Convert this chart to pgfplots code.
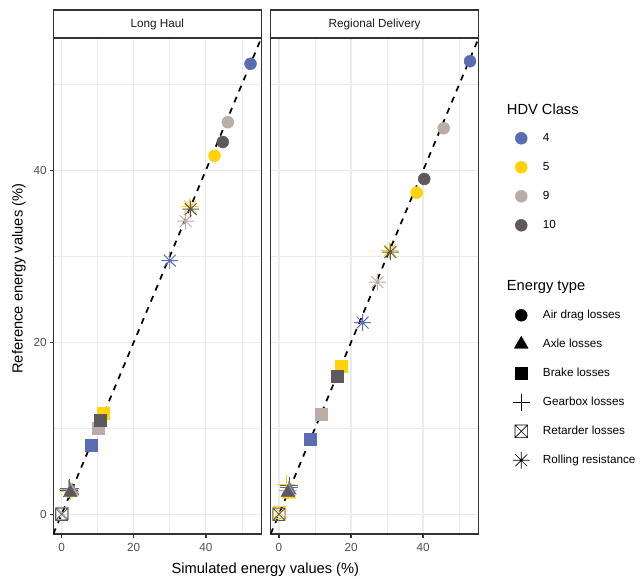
\documentclass[border=0pt]{standalone}
\usepackage{fontspec}
\setmainfont{Liberation Sans}
\usepackage{pgfplots}
\pgfplotsset{compat=1.18}
\usepackage{pgfplotstable}

% HDV class colours and theme colours
\definecolor{c4}{HTML}{5B6DB2}
\definecolor{c5}{HTML}{FFD308}
\definecolor{c9}{HTML}{B9ADA5}
\definecolor{c10}{HTML}{5F585E}
\definecolor{frame}{HTML}{333333}
\definecolor{gridc}{HTML}{EBEBEB}
\definecolor{ticktext}{HTML}{4D4D4D}

% boxed cross (retarder losses)
\pgfdeclareplotmark{boxx}{%
  \pgfpathrectangle{\pgfpoint{-\pgfplotmarksize}{-\pgfplotmarksize}}{\pgfpoint{2\pgfplotmarksize}{2\pgfplotmarksize}}%
  \pgfpathmoveto{\pgfpoint{-\pgfplotmarksize}{-\pgfplotmarksize}}%
  \pgfpathlineto{\pgfpoint{\pgfplotmarksize}{\pgfplotmarksize}}%
  \pgfpathmoveto{\pgfpoint{-\pgfplotmarksize}{\pgfplotmarksize}}%
  \pgfpathlineto{\pgfpoint{\pgfplotmarksize}{-\pgfplotmarksize}}%
  \pgfusepathqstroke}
% eight-armed asterisk (rolling resistance)
\pgfdeclareplotmark{star8}{%
  \pgfpathmoveto{\pgfpoint{-\pgfplotmarksize}{0pt}}%
  \pgfpathlineto{\pgfpoint{\pgfplotmarksize}{0pt}}%
  \pgfpathmoveto{\pgfpoint{0pt}{-\pgfplotmarksize}}%
  \pgfpathlineto{\pgfpoint{0pt}{\pgfplotmarksize}}%
  \pgfpathmoveto{\pgfpoint{-0.7071\pgfplotmarksize}{-0.7071\pgfplotmarksize}}%
  \pgfpathlineto{\pgfpoint{0.7071\pgfplotmarksize}{0.7071\pgfplotmarksize}}%
  \pgfpathmoveto{\pgfpoint{-0.7071\pgfplotmarksize}{0.7071\pgfplotmarksize}}%
  \pgfpathlineto{\pgfpoint{0.7071\pgfplotmarksize}{-0.7071\pgfplotmarksize}}%
  \pgfusepathqstroke}

% marker shape per energy type
\tikzset{
  mD/.style={mark=*, mark size=4.5pt, line width=0.3pt},
  mA/.style={mark=triangle*, mark size=6pt, line width=0.3pt},
  mB/.style={mark=square*, mark size=4.5pt, line width=0.3pt},
  mG/.style={mark=+, mark size=6.8pt, line width=0.6pt},
  mR/.style={mark=boxx, mark size=4.6pt, line width=0.6pt},
  mS/.style={mark=star8, mark size=6.3pt, line width=0.7pt},
}

\pgfplotsset{
  energyclasses/.style={scatter/classes={
    D4={mD,c4}, D5={mD,c5}, D9={mD,c9}, D10={mD,c10},
    A4={mA,c4}, A5={mA,c5}, A9={mA,c9}, A10={mA,c10},
    B4={mB,c4}, B5={mB,c5}, B9={mB,c9}, B10={mB,c10},
    G4={mG,c4}, G5={mG,c5}, G9={mG,c9}, G10={mG,c10},
    R4={mR,c4}, R5={mR,c5}, R9={mR,c9}, R10={mR,c10},
    S4={mS,c4}, S5={mS,c5}, S9={mS,c9}, S10={mS,c10}}},
  panel/.style={
    scale only axis, width=156pt, height=372pt,
    xmin=-2.3, xmax=55.4, ymin=-2.3, ymax=55.4,
    xtick={0,20,40}, ytick={0,20,40},
    minor xtick={10,30,50}, minor ytick={10,30,50},
    grid=both,
    major grid style={gridc, line width=1pt},
    minor grid style={gridc, line width=0.55pt},
    axis line style={frame, line width=1.07pt},
    tick align=outside, major tick length=2.75pt, minor tick length=0pt,
    tick style={frame, line width=1.07pt},
    xtick pos=bottom, ytick pos=left,
    /pgf/number format/assume math mode=true,
    ticklabel style={font=\fontsize{8.8}{10}\selectfont, text=ticktext},
    xticklabel style={inner sep=0pt, yshift=-4pt},
    yticklabel style={inner sep=0pt, xshift=-2pt},
  },
  legendbox/.style={
    hide axis, scale only axis, width=10pt, height=10pt,
    xmin=0, xmax=1, ymin=0, ymax=1,
    legend cell align=left,
    legend image code/.code={%
      \path[draw=none, fill=none] (-8pt,-7.5pt) rectangle (8pt,7.5pt);
      \draw[##1] plot coordinates {(0pt,0pt)};},
    legend style={draw=none, fill=none, inner sep=0pt, at={(0,1)}, anchor=north west,
      row sep=6.75pt, column sep=8.25pt,
      font=\fontsize{8.8}{10}\selectfont, nodes={inner sep=0pt}},
  },
}

% simulated vs reference energy shares (%)
\pgfplotstableread{
sim  ref  key
0.2  0.1  R9
0.0  0.0  R10
2.2  3.0  G4
1.9  2.9  G9
2.3  2.7  G5
2.1  2.8  G10
2.9  2.7  A4
2.7  2.6  A5
2.6  2.7  A9
2.4  2.5  A10
8.2  8.0  B4
11.5 11.7 B5
10.1 10.0 B9
10.7 10.9 B10
30.0 29.5 S4
35.6 35.8 S5
34.4 34.1 S9
35.8 35.5 S10
52.4 52.4 D4
42.4 41.7 D5
46.1 45.6 D9
44.7 43.3 D10
}\longhaul

\pgfplotstableread{
sim  ref  key
0.2  0.2  R5
0.0  0.0  R10
2.8  3.1  G4
2.6  2.8  G9
2.9  3.3  G10
2.0  3.5  G5
2.9  2.8  A4
2.8  2.3  A5
2.6  2.6  A9
2.5  2.5  A10
8.8  8.7  B4
17.3 17.2 B5
11.8 11.6 B9
16.1 16.1 B10
23.2 22.3 S4
30.7 30.7 S5
27.3 27.0 S9
30.9 30.5 S10
53.0 52.7 D4
38.2 37.4 D5
45.7 44.9 D9
40.3 39.0 D10
}\regional

\begin{document}
\begin{tikzpicture}
\path[use as bounding box] (0pt,0pt) rectangle (480pt,-434.25pt);

\begin{axis}[panel, at={(40pt,-400.5pt)}, anchor=south west]
  \addplot[scatter, only marks, scatter src=explicit symbolic, energyclasses]
    table[x=sim, y=ref, meta=key] {\longhaul};
  \addplot[black, line width=1.3pt, dash pattern=on 4.5pt off 4.5pt, no marks]
    coordinates {(-2.3,-2.3) (55.4,55.4)};
\end{axis}

\begin{axis}[panel, at={(203pt,-400.5pt)}, anchor=south west,
    yticklabels={}, ytick style={draw=none}]
  \addplot[scatter, only marks, scatter src=explicit symbolic, energyclasses]
    table[x=sim, y=ref, meta=key] {\regional};
  \addplot[black, line width=1.3pt, dash pattern=on 4.5pt off 4.5pt, no marks]
    coordinates {(-2.3,-2.3) (55.4,55.4)};
\end{axis}

% facet strips
\draw[frame, line width=1.07pt, fill=white] (40pt,-7.5pt) rectangle (196pt,-28.5pt);
\node[font=\fontsize{8.8}{10}\selectfont, text=black!90] at (118pt,-18pt) {Long Haul};
\draw[frame, line width=1.07pt, fill=white] (203pt,-7.5pt) rectangle (359pt,-28.5pt);
\node[font=\fontsize{8.8}{10}\selectfont, text=black!90] at (281pt,-18pt) {Regional Delivery};

% axis titles
\node[anchor=base, font=\fontsize{11}{13}\selectfont] at (199pt,-430pt) {Simulated energy values (\%)};
\node[anchor=base, rotate=90, font=\fontsize{11}{13}\selectfont] at (17pt,-209pt) {Reference energy values (\%)};

% legends
\node[anchor=base west, font=\fontsize{11}{13}\selectfont, inner sep=0pt] at (380pt,-85.5pt) {HDV Class};
\begin{axis}[legendbox, at={(382.75pt,-96pt)}, anchor=north west]
  \addlegendimage{only marks, mD, c4}\addlegendentry{4}
  \addlegendimage{only marks, mD, c5}\addlegendentry{5}
  \addlegendimage{only marks, mD, c9}\addlegendentry{9}
  \addlegendimage{only marks, mD, c10}\addlegendentry{10}
\end{axis}

\node[anchor=base west, font=\fontsize{11}{13}\selectfont, inner sep=0pt] at (380pt,-218pt) {Energy type};
\begin{axis}[legendbox, at={(382.75pt,-228.75pt)}, anchor=north west]
  \addlegendimage{only marks, mD, black}\addlegendentry{Air drag losses}
  \addlegendimage{only marks, mA, black}\addlegendentry{Axle losses}
  \addlegendimage{only marks, mB, black}\addlegendentry{Brake losses}
  \addlegendimage{only marks, mG, mark size=6.4pt, line width=0.4pt, black}\addlegendentry{Gearbox losses}
  \addlegendimage{only marks, mR, mark size=4.75pt, line width=0.5pt, black}\addlegendentry{Retarder losses}
  \addlegendimage{only marks, mS, line width=0.5pt, black}\addlegendentry{Rolling resistance}
\end{axis}
\end{tikzpicture}
\end{document}
